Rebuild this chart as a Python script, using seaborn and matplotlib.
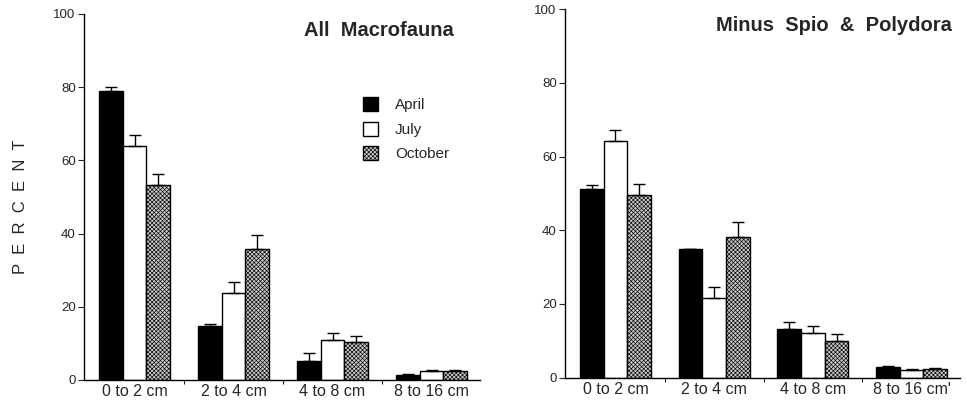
import numpy as np
import pandas as pd
import matplotlib
matplotlib.use("Agg")
import matplotlib.pyplot as plt
import seaborn as sns
from matplotlib.patches import Patch

sns.set_style("ticks")
plt.rcParams['font.family'] = ['Liberation Sans', 'DejaVu Sans']
plt.rcParams['hatch.linewidth'] = 0.45
plt.rcParams['hatch.color'] = '#444444'

depths = ["0 to 2 cm", "2 to 4 cm", "4 to 8 cm", "8 to 16 cm"]
depth_labels_right = ["0 to 2 cm", "2 to 4 cm", "4 to 8 cm", "8 to 16 cm'"]
months = ["April", "July", "October"]

# All Macrofauna (percent) and standard errors
all_april = [79.0, 14.8, 5.2, 1.5]
all_july = [64.0, 23.9, 10.9, 2.5]
all_october = [53.2, 35.8, 10.3, 2.5]
all_april_err = [1.0, 0.5, 2.1, 0.2]
all_july_err = [3.0, 2.8, 2.0, 0.3]
all_october_err = [3.0, 3.7, 1.6, 0.3]

# Minus Spio & Polydora
minus_april = [51.2, 34.8, 13.2, 3.0]
minus_july = [64.2, 21.7, 12.2, 2.0]
minus_october = [49.6, 38.2, 10.0, 2.3]
minus_april_err = [1.1, 0.1, 2.0, 0.1]
minus_july_err = [2.9, 3.0, 1.9, 0.3]
minus_october_err = [3.1, 4.0, 1.9, 0.3]

titles = ["All  Macrofauna", "Minus  Spio  &  Polydora"]

face = {"April": "black", "July": "white", "October": "#c8c8c8"}
hatch = {"April": None, "July": None, "October": "xxxxxxxx"}


def make_df(a, j, o):
    rows = []
    for m, vals in zip(months, [a, j, o]):
        for d, v in zip(depths, vals):
            rows.append({"depth": d, "month": m, "value": v})
    return pd.DataFrame(rows)


fig = plt.figure(figsize=(9.67, 4.0), dpi=100)
ax1 = fig.add_axes([0.0869, 0.05, 0.4095, 0.915])
ax2 = fig.add_axes([0.5843, 0.0558, 0.4085, 0.921])

panels = [
    (ax1, make_df(all_april, all_july, all_october),
     [all_april_err, all_july_err, all_october_err], depths, titles[0], (0.933, 0.955)),
    (ax2, make_df(minus_april, minus_july, minus_october),
     [minus_april_err, minus_july_err, minus_october_err], depth_labels_right, titles[1], (0.98, 0.955)),
]

for ax, df, errs, xlabels, title, tpos in panels:
    sns.barplot(data=df, x="depth", y="value", hue="month", order=depths,
                hue_order=months, width=0.72, gap=0, ax=ax,
                palette=[face[m] for m in months], edgecolor="black",
                linewidth=1.0, errorbar=None, legend=False)
    containers = ax.containers
    for m, cont, err in zip(months, containers, errs):
        xs, hs = [], []
        for p in cont.patches:
            p.set_facecolor(face[m])
            p.set_edgecolor("black")
            if hatch[m]:
                p.set_hatch(hatch[m])
            xs.append(p.get_x() + p.get_width() / 2)
            hs.append(p.get_height())
        xs = np.array(xs)
        hs = np.array(hs)
        ax.errorbar(xs, hs, yerr=[np.zeros_like(hs), np.array(err)], fmt="none",
                    ecolor="black", elinewidth=1.0, capsize=4, capthick=1.0, zorder=1)
    ax.set_xlim(-0.51, 3.49)
    ax.set_ylim(0, 100)
    ax.set_yticks([0, 20, 40, 60, 80, 100])
    ax.set_xticks(range(4))
    ax.set_xticklabels(xlabels, fontsize=11.5)
    ax.tick_params(axis="x", length=0, pad=3)
    ax.set_xticks([0.5, 1.5, 2.5], minor=True)
    ax.tick_params(axis="x", which="minor", length=3, width=0.8, direction="out")
    ax.tick_params(axis="y", labelsize=9.5, length=4, width=0.8, pad=2)
    ax.set_xlabel("")
    ax.set_ylabel("")
    for s in ["top", "right"]:
        ax.spines[s].set_visible(False)
    for s in ["left", "bottom"]:
        ax.spines[s].set_linewidth(1.0)
        ax.spines[s].set_color("black")
    ax.text(tpos[0], tpos[1], title, transform=ax.transAxes, ha="right", va="center",
            fontsize=14.5, fontweight="bold")

handles = [Patch(facecolor=face[m], edgecolor="black", hatch=hatch[m], label=m) for m in months]
leg = ax1.legend(handles=handles, loc="upper left", bbox_to_anchor=(0.67, 0.81),
                 frameon=False, fontsize=11, handlelength=1.0, handleheight=1.0,
                 labelspacing=0.62, handletextpad=1.1)

fig.text(0.0207, 0.4825, "P  E  R  C  E  N  T", rotation=90, ha="center", va="center", fontsize=12)

fig.savefig("out.png", dpi=100)
